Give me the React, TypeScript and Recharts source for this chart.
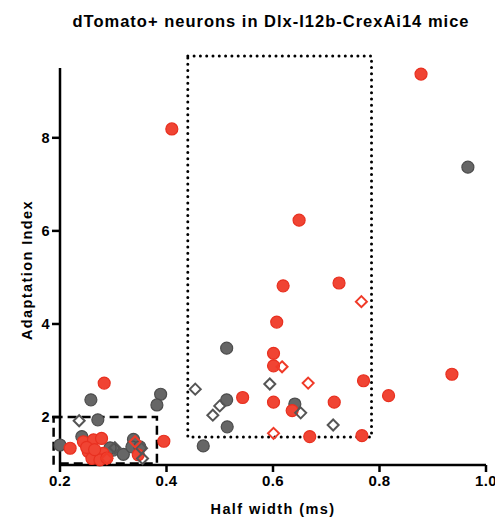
import { ScatterChart, Scatter, XAxis, YAxis, ReferenceArea } from 'recharts'

const font = '"Liberation Sans", Arial, sans-serif'

// [half width (ms), adaptation index]
const redCircles = [
  [0.878, 9.37], [0.41, 8.19], [0.649, 6.23], [0.619, 4.82], [0.724, 4.88], [0.607, 4.04],
  [0.601, 3.37], [0.601, 3.10], [0.770, 2.78], [0.543, 2.42], [0.601, 2.32], [0.636, 2.14],
  [0.715, 2.32], [0.669, 1.58], [0.767, 1.60], [0.936, 2.92], [0.817, 2.46], [0.283, 2.73],
  [0.395, 1.48], [0.219, 1.33], [0.244, 1.47], [0.263, 1.51], [0.278, 1.54], [0.253, 1.26],
  [0.269, 1.19], [0.281, 1.22], [0.26, 1.11], [0.275, 1.08], [0.288, 1.12], [0.347, 1.19],
  [0.25, 1.35], [0.265, 1.30],
]
const grayCircles = [
  [0.966, 7.37], [0.513, 3.48], [0.513, 2.37], [0.641, 2.28], [0.514, 1.79], [0.469, 1.38],
  [0.258, 2.37], [0.389, 2.49], [0.382, 2.26], [0.271, 1.94], [0.2, 1.40], [0.241, 1.58],
  [0.3, 1.29], [0.319, 1.2], [0.338, 1.52], [0.335, 1.36], [0.35, 1.36], [0.294, 1.34],
]
const grayDiamonds = [
  [0.454, 2.60], [0.594, 2.71], [0.500, 2.24], [0.487, 2.04], [0.652, 2.09], [0.713, 1.83],
  [0.236, 1.92], [0.303, 1.34], [0.353, 1.33], [0.355, 1.11],
]
const redDiamonds = [
  [0.766, 4.48], [0.617, 3.08], [0.666, 2.73], [0.601, 1.65], [0.341, 1.47], [0.288, 1.11],
]
const xTicks = [0.2, 0.4, 0.6, 0.8, 1.0]
const yTicks = [2, 4, 6, 8]

const toPts = (arr: number[][]) => arr.map(([x, y]) => ({ x, y }))

const dot = (fill: string, stroke: string) => (p: any) =>
  <circle cx={p.cx} cy={p.cy} r={6} fill={fill} stroke={stroke} strokeWidth={1.2} />

const diamond = (stroke: string) => (p: any) => {
  const s = 5.5
  return <polygon points={`${p.cx},${p.cy - s} ${p.cx + s},${p.cy} ${p.cx},${p.cy + s} ${p.cx - s},${p.cy}`}
    fill="none" stroke={stroke} strokeWidth={2} />
}

const box = (dash: string, width: number, cap: 'round' | 'butt') => (p: any) =>
  <rect x={p.x} y={p.y} width={p.width} height={p.height} fill="none" stroke="#000"
    strokeWidth={width} strokeDasharray={dash} strokeLinecap={cap} />

const tickStyle = { fill: '#000', fontSize: 15, fontWeight: 700, fontFamily: font, letterSpacing: 0.4 }
const labelStyle = { position: 'absolute' as const, fontSize: 14.5, fontWeight: 700, lineHeight: '15px',
  letterSpacing: 1.4, whiteSpace: 'nowrap' as const }

export default function App() {
  return (
    <div style={{ position: 'relative', width: 503, height: 521, margin: '-8px 0 0 -8px', fontFamily: font }}>
      <div style={{ ...labelStyle, left: 0, top: 13, width: 542, textAlign: 'center', fontSize: 16.5,
        lineHeight: '16px', letterSpacing: 1.0 }}>dTomato+ neurons in Dlx-I12b-CrexAi14 mice</div>
      <ScatterChart width={503} height={521} margin={{ top: 68, right: 17, bottom: 0, left: 0 }}>
        <XAxis type="number" dataKey="x" domain={[0.2, 1.0]} ticks={xTicks} tickFormatter={(v) => v.toFixed(1)}
          height={56} tick={tickStyle} tickSize={7} tickMargin={3}
          axisLine={{ stroke: '#000', strokeWidth: 2.5 }} tickLine={{ stroke: '#000', strokeWidth: 2.5 }} />
        <YAxis type="number" dataKey="y" domain={[0.97, 9.5]} ticks={yTicks} width={60}
          tick={{ ...tickStyle, fontSize: 14.5 }} tickSize={8} tickMargin={2}
          axisLine={{ stroke: '#000', strokeWidth: 2.5 }} tickLine={{ stroke: '#000', strokeWidth: 2.5 }} />
        <ReferenceArea x1={0.44} x2={0.785} y1={1.57} y2={9.76} ifOverflow="visible" shape={box('0 6.3', 3, 'round')} />
        <ReferenceArea x1={0.188} x2={0.382} y1={1.0} y2={2.0} ifOverflow="visible" shape={box('9 5', 2.5, 'butt')} />
        <Scatter data={toPts(grayCircles)} shape={dot('#666666', '#4d4d4d')} isAnimationActive={false} />
        <Scatter data={toPts(redCircles)} shape={dot('#F04433', '#E83020')} isAnimationActive={false} />
        <Scatter data={toPts(grayDiamonds)} shape={diamond('#555555')} isAnimationActive={false} />
        <Scatter data={toPts(redDiamonds)} shape={diamond('#F03A28')} isAnimationActive={false} />
      </ScatterChart>
      <div style={{ ...labelStyle, left: 0, top: 502, width: 546, textAlign: 'center' }}>Half width (ms)</div>
      <div style={{ ...labelStyle, left: 27, top: 270, transform: 'translate(-50%, -50%) rotate(-90deg)' }}>
        Adaptation Index</div>
    </div>
  )
}
